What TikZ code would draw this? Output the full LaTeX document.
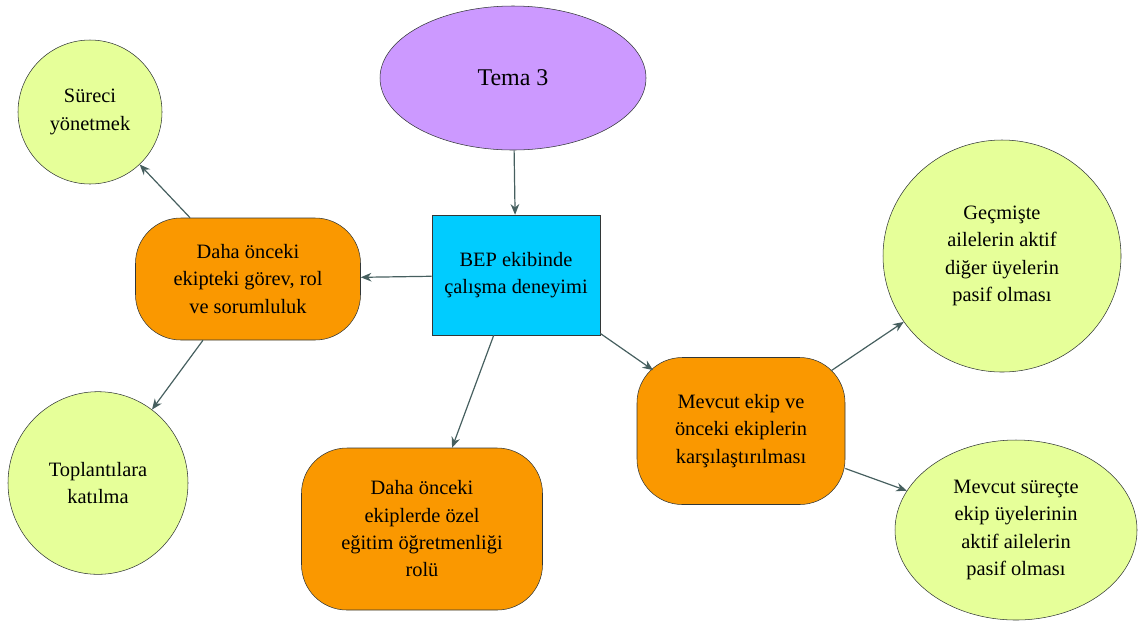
\documentclass[tikz,border=0pt]{standalone}
\usepackage{fontspec}
\setmainfont{Liberation Serif}
\usetikzlibrary{shapes.geometric,arrows.meta}
\definecolor{turuncu}{RGB}{250,152,0}
\definecolor{yesil}{RGB}{230,255,153}
\definecolor{mor}{RGB}{204,153,255}
\definecolor{mavi}{RGB}{0,204,255}
\definecolor{cizgi}{RGB}{50,55,55}
\definecolor{okrenk}{RGB}{70,95,95}
\begin{document}
\begin{tikzpicture}[x=0.75pt,y=-0.75pt,
    yazi/.style={align=center,inner sep=0pt,font=\fontsize{15.3}{20.5}\selectfont},
    kutu/.style={yazi,draw=cizgi,fill=turuncu,rounded corners=34pt},
    daire/.style={yazi,draw=cizgi,fill=yesil,ellipse},
    ok/.style={draw=okrenk,line width=0.9pt,-{Stealth[length=8pt,width=6.5pt]}}]
    \useasboundingbox (0,0) rectangle (1141,626);

    % Tema
    \node[yazi,draw=cizgi,fill=mor,ellipse,minimum width=199.5pt,minimum height=108pt,
          font=\fontsize{18}{22}\selectfont] (tema) at (513,78) {Tema 3};

    % Merkez kutu
    \node[yazi,draw=cizgi,fill=mavi,minimum width=126pt,minimum height=90pt] (bep) at (516,275)
        {BEP ekibinde\\ çalışma deneyimi};

    % Turuncu kutular
    \node[kutu,minimum width=168.75pt,minimum height=91.5pt] (ekip) at (248,279)
        {Daha önceki\\ ekipteki görev, rol\\ ve sorumluluk};
    \node[kutu,minimum width=180.75pt,minimum height=121.5pt] (ozel) at (422,529)
        {Daha önceki\\ ekiplerde özel\\ eğitim öğretmenliği\\ rolü};
    \node[kutu,minimum width=156pt,minimum height=110.25pt] (mevcut) at (741,431)
        {Mevcut ekip ve\\ önceki ekiplerin\\ karşılaştırılması};

    % Yesil daireler
    \node[daire,minimum width=108pt,minimum height=108pt] (surec) at (90,112)
        {Süreci\\ yönetmek};
    \node[daire,minimum width=135pt,minimum height=137pt] (toplanti) at (98,483)
        {Toplantılara\\ katılma};
    \node[daire,minimum width=178.5pt,minimum height=174pt] (gecmis) at (1002,256)
        {Geçmişte\\ ailelerin aktif\\ diğer üyelerin\\ pasif olması};
    \node[daire,minimum width=181.5pt,minimum height=135pt] (simdi) at (1016,530)
        {Mevcut süreçte\\ ekip üyelerinin\\ aktif ailelerin\\ pasif olması};

    % Oklar
    \draw[ok] (tema) -- (bep);
    \draw[ok] (bep) -- (ekip);
    \draw[ok] (bep) -- (ozel);
    \draw[ok,shorten >=-15pt] (bep) -- (mevcut);
    \draw[ok] (ekip) -- (surec);
    \draw[ok] (ekip) -- (toplanti);
    \draw[ok,shorten <=-13pt] (mevcut) -- (gecmis);
    \draw[ok] (mevcut) -- (simdi);
\end{tikzpicture}
\end{document}
